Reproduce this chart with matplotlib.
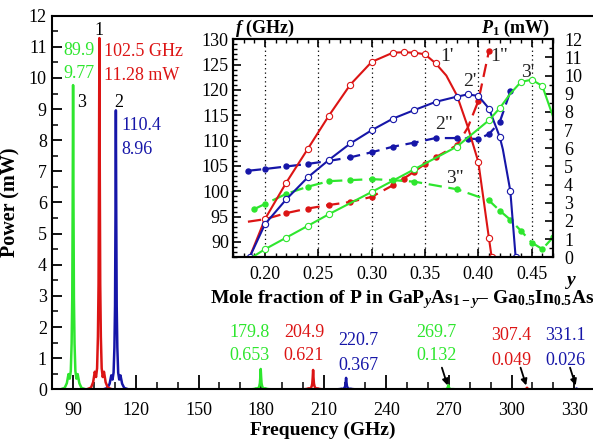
import numpy as np
import matplotlib
matplotlib.use("Agg")
import matplotlib.pyplot as plt
from matplotlib.ticker import MultipleLocator

plt.rcParams['font.family'] = ['Liberation Serif', 'DejaVu Serif']
plt.rcParams['mathtext.fontset'] = 'custom'
plt.rcParams['mathtext.rm'] = 'Liberation Serif:bold'
plt.rcParams['mathtext.it'] = 'Liberation Serif:italic:bold'
plt.rcParams['mathtext.bf'] = 'Liberation Serif:bold'

GREEN = '#2ee62e'
RED = '#dc1414'
BLUE = '#1616a8'

# spectrum peaks (GHz, mW)
freq1 = [102.5, 204.9, 307.4]
pow1 = [11.28, 0.621, 0.049]
freq2 = [110.4, 220.7, 331.1]
pow2 = [8.96, 0.367, 0.026]
freq3 = [89.9, 179.8, 269.7]
pow3 = [9.77, 0.653, 0.132]

# line shape (offset GHz, relative height)
shape_off = [-6, -4, -3, -2.2, -1.6, -1.1, -0.7, -0.4, -0.2, 0, 0.2, 0.4, 0.7, 1.1, 1.6, 2.2, 3, 4, 6]
shape_rel = [0, 0.005, 0.02, 0.05, 0.035, 0.06, 0.15, 0.3, 0.6, 1, 0.6, 0.3, 0.15, 0.06, 0.035, 0.05, 0.02, 0.005, 0]

# inset: mole fraction y vs frequency (dashed) and power (solid)
y1P = [0.1856, 0.20, 0.22, 0.24, 0.26, 0.28, 0.30, 0.32, 0.33, 0.34, 0.35, 0.36, 0.37, 0.38, 0.39, 0.40, 0.41, 0.4125]
P1 = [0, 2.1, 4.11, 5.95, 7.8, 9.5, 10.75, 11.26, 11.28, 11.26, 11.17, 10.67, 10.0, 8.9, 7.2, 5.25, 1.03, 0]
m1P = [1, 2, 3, 4, 5, 6, 7, 8, 9, 10, 11, 15, 16, 17]

y2P = [0.1856, 0.20, 0.22, 0.24, 0.26, 0.28, 0.30, 0.32, 0.34, 0.36, 0.38, 0.39, 0.40, 0.41, 0.42, 0.423, 0.43, 0.435]
P2 = [0, 1.82, 3.19, 4.39, 5.36, 6.26, 6.99, 7.63, 8.10, 8.55, 8.84, 8.96, 8.88, 8.18, 6.64, 5.94, 3.65, 0]
m2P = [0, 1, 2, 3, 4, 5, 6, 7, 8, 9, 10, 11, 12, 13, 14, 16, 17]

y3P = [0.188, 0.20, 0.22, 0.24, 0.26, 0.30, 0.34, 0.38, 0.41, 0.42, 0.43, 0.44, 0.45, 0.46, 0.47]
P3 = [0, 0.44, 1.08, 1.72, 2.37, 3.59, 4.84, 6.09, 7.54, 8.2, 9.0, 9.65, 9.77, 9.43, 7.75]
m3P = [1, 2, 3, 4, 5, 6, 7, 8, 9, 11, 12, 13]

y1f = [0.184, 0.20, 0.22, 0.24, 0.26, 0.28, 0.30, 0.32, 0.33, 0.34, 0.35, 0.36, 0.38, 0.39, 0.40, 0.41]
f1 = [94.0, 94.5, 95.7, 96.6, 97.3, 97.9, 98.9, 101.2, 102.5, 103.9, 105.4, 106.7, 109.1, 112.5, 117.8, 127.7]
m1f = [1, 2, 3, 4, 5, 6, 7, 8, 9, 10, 11, 12, 14, 15]

y2f = [0.184, 0.20, 0.22, 0.24, 0.26, 0.28, 0.30, 0.32, 0.34, 0.36, 0.38, 0.39, 0.40, 0.41, 0.42, 0.43]
f2 = [104.05, 104.4, 104.9, 105.4, 106.0, 106.7, 107.7, 108.8, 109.6, 110.5, 110.5, 110.4, 110.3, 111.3, 113.6, 119.7]

y3f = [0.19, 0.20, 0.22, 0.24, 0.26, 0.28, 0.30, 0.32, 0.34, 0.38, 0.41, 0.42, 0.43, 0.44, 0.45, 0.46, 0.47]
f3 = [96.5, 97.5, 99.5, 100.9, 102.0, 102.2, 102.4, 102.2, 101.9, 100.4, 98.2, 96.2, 94.4, 92.2, 89.9, 88.6, 90.9]


def spectrum(freqs, powers, lo=None, hi=None):
    xs, ys = [], []
    if lo is not None:
        xs.append(lo); ys.append(0)
    for f, p in zip(freqs, powers):
        xs += [f + o for o in shape_off]
        ys += [p * r for r in shape_rel]
    if hi is not None:
        xs.append(hi); ys.append(0)
    return np.array(xs), np.array(ys)


fig = plt.figure(figsize=(5.93, 4.43), dpi=100)
ax = fig.add_axes([0.0884, 0.1212, 0.9116, 0.8434])

for fr, pw, c in [(freq2, pow2, BLUE), (freq1, pow1, RED)]:
    x, y = spectrum(fr, pw)
    ax.plot(x, y, color=c, lw=1.8)
x, y = spectrum(freq3, pow3, 80, 339)
ax.plot(x, y, color=GREEN, lw=1.8)

ax.set_xlim(80, 339)
ax.set_ylim(0, 12)
ax.xaxis.set_major_locator(MultipleLocator(30))
ax.xaxis.set_minor_locator(MultipleLocator(10))
ax.yaxis.set_major_locator(MultipleLocator(1))
ax.yaxis.set_minor_locator(MultipleLocator(0.5))
ax.tick_params(axis='x', which='major', direction='in', length=10, width=1.3, labelsize=13, pad=9)
ax.tick_params(axis='x', which='minor', direction='in', length=5, width=1.1)
ax.tick_params(axis='y', which='major', direction='in', length=7, width=1.3, labelsize=13, pad=4)
ax.tick_params(axis='y', which='minor', direction='in', length=4, width=1.1)
ax.spines['right'].set_visible(False)
for s in ['left', 'top', 'bottom']:
    ax.spines[s].set_linewidth(1.5)
ax.set_xlabel('Frequency (GHz)', fontsize=14, fontweight='bold', labelpad=2)
ax.set_ylabel('Power (mW)', fontsize=14.5, fontweight='bold', labelpad=6)

fs = 13
ax.text(85.1, 10.75, f"{freq3[0]}", color=GREEN, fontsize=fs)
ax.text(85.1, 10.0, f"{pow3[0]:.2f}", color=GREEN, fontsize=fs)
ax.text(91.8, 9.08, "3", color='k', fontsize=fs)
ax.text(102.2, 11.39, "1", color='k', fontsize=fs, ha='center')
ax.text(104.7, 10.72, f"{freq1[0]} GHz", color=RED, fontsize=fs)
ax.text(104.7, 9.95, f"{pow1[0]:.2f} mW", color=RED, fontsize=fs)
ax.text(111.9, 9.08, "2", color='k', fontsize=fs, ha='center')
ax.text(112.9, 8.34, f"{freq2[0]}", color=BLUE, fontsize=fs)
ax.text(112.9, 7.57, f"{pow2[0]:.2f}", color=BLUE, fontsize=fs)

ax.text(174.2, 1.68, f"{freq3[1]}", color=GREEN, fontsize=fs, ha='center')
ax.text(174.2, 0.94, f"{pow3[1]:.3f}", color=GREEN, fontsize=fs, ha='center')
ax.text(200.5, 1.68, f"{freq1[1]}", color=RED, fontsize=fs, ha='center')
ax.text(200.5, 0.94, f"{pow1[1]:.3f}", color=RED, fontsize=fs, ha='center')
ax.text(226.6, 1.42, f"{freq2[1]}", color=BLUE, fontsize=fs, ha='center')
ax.text(226.6, 0.62, f"{pow2[1]:.3f}", color=BLUE, fontsize=fs, ha='center')
ax.text(264.0, 1.68, f"{freq3[2]}", color=GREEN, fontsize=fs, ha='center')
ax.text(264.0, 0.94, f"{pow3[2]:.3f}", color=GREEN, fontsize=fs, ha='center')
ax.text(299.9, 1.59, f"{freq1[2]}", color=RED, fontsize=fs, ha='center')
ax.text(299.9, 0.78, f"{pow1[2]:.3f}", color=RED, fontsize=fs, ha='center')
ax.text(325.6, 1.59, f"{freq2[2]}", color=BLUE, fontsize=fs, ha='center')
ax.text(325.6, 0.78, f"{pow2[2]:.3f}", color=BLUE, fontsize=fs, ha='center')

for f in [freq3[2], freq1[2], freq2[2]]:
    ax.annotate('', xy=(f, 0.04), xytext=(f - 3.5, 0.78),
                arrowprops=dict(arrowstyle='-|>', color='k', lw=1.3, mutation_scale=9))

# inset
ax2 = fig.add_axes([0.3929, 0.4194, 0.5396, 0.4921])
ax3 = ax2.twinx()
ax2.set_zorder(3)
ax3.set_zorder(4)
ax2.set_facecolor('white')

for xv in [0.20, 0.25, 0.30, 0.35, 0.40, 0.45]:
    ax2.axvline(xv, color='k', ls=(0, (1, 2.5)), lw=0.9)

dash = (0, (6, 3))
ax2.plot(y1f, f1, color=RED, ls=dash, lw=1.6, marker='o', ms=3.6, markevery=m1f)
ax2.plot(y2f, f2, color=BLUE, ls=dash, lw=1.6, marker='o', ms=3.6)
ax2.plot(y3f, f3, color=GREEN, ls=dash, lw=1.6, marker='o', ms=3.6)

ax3.plot(y1P, P1, color=RED, lw=1.5, marker='o', ms=4.5, mfc='white', mew=0.8, markevery=m1P)
ax3.plot(y2P, P2, color=BLUE, lw=1.5, marker='o', ms=4.5, mfc='white', mew=0.8, markevery=m2P)
ax3.plot(y3P, P3, color=GREEN, lw=1.5, marker='o', ms=4.5, mfc='white', mew=0.8, markevery=m3P)

ax2.set_xlim(0.17, 0.47)
ax2.set_ylim(87, 130)
ax3.set_ylim(0, 12)
ax2.xaxis.set_major_locator(MultipleLocator(0.05))
ax2.xaxis.set_minor_locator(MultipleLocator(0.01))
ax2.yaxis.set_major_locator(MultipleLocator(5))
ax2.yaxis.set_minor_locator(MultipleLocator(1))
ax3.yaxis.set_major_locator(MultipleLocator(1))
ax3.yaxis.set_minor_locator(MultipleLocator(0.5))
ax2.set_xticks([0.20, 0.25, 0.30, 0.35, 0.40, 0.45])
ax2.set_xticklabels(['0.20', '0.25', '0.30', '0.35', '0.40', '0.45'])
ax2.set_yticks([90, 95, 100, 105, 110, 115, 120, 125, 130])
ax2.tick_params(which='major', direction='in', length=6, width=1.2, labelsize=13, top=True, pad=3)
ax2.tick_params(which='minor', direction='in', length=3, width=1.0, top=True)
ax2.tick_params(axis='x', which='major', pad=6)
ax3.tick_params(which='major', direction='in', length=6, width=1.2, labelsize=13, pad=8)
ax3.tick_params(which='minor', direction='in', length=3, width=1.0)
for a in (ax2, ax3):
    for s in a.spines.values():
        s.set_linewidth(1.5)

ax2.text(0.006, 1.028, r"$f$ (GHz)", transform=ax2.transAxes, fontsize=13, fontweight='bold')
ax2.text(0.99, 1.028, r"$P_1$ (mW)", transform=ax2.transAxes, fontsize=13, fontweight='bold', ha='right')
ax2.text(1.056, -0.128, "y", transform=ax2.transAxes, fontsize=14, fontweight='bold', style='italic', ha='center')
ax2.text(0.528, -0.211, r"Mole fraction of P in GaP$_y$As$_{1-y}$– Ga$_{0.5}$In$_{0.5}$As",
         transform=ax2.transAxes, fontsize=14, fontweight='bold', ha='center')

lab = dict(fontsize=14, ha='center', va='center', color='#222222')
ax2.text(0.3706, 126.5, "1'", **lab)
ax2.text(0.4194, 126.5, '1"', **lab)
ax2.text(0.3922, 121.7, "2'", **lab)
ax2.text(0.3678, 113.1, '2"', **lab)
ax2.text(0.4466, 123.5, "3'", **lab)
ax2.text(0.378, 102.6, '3"', **lab)

fig.savefig("out.png", dpi=100)
